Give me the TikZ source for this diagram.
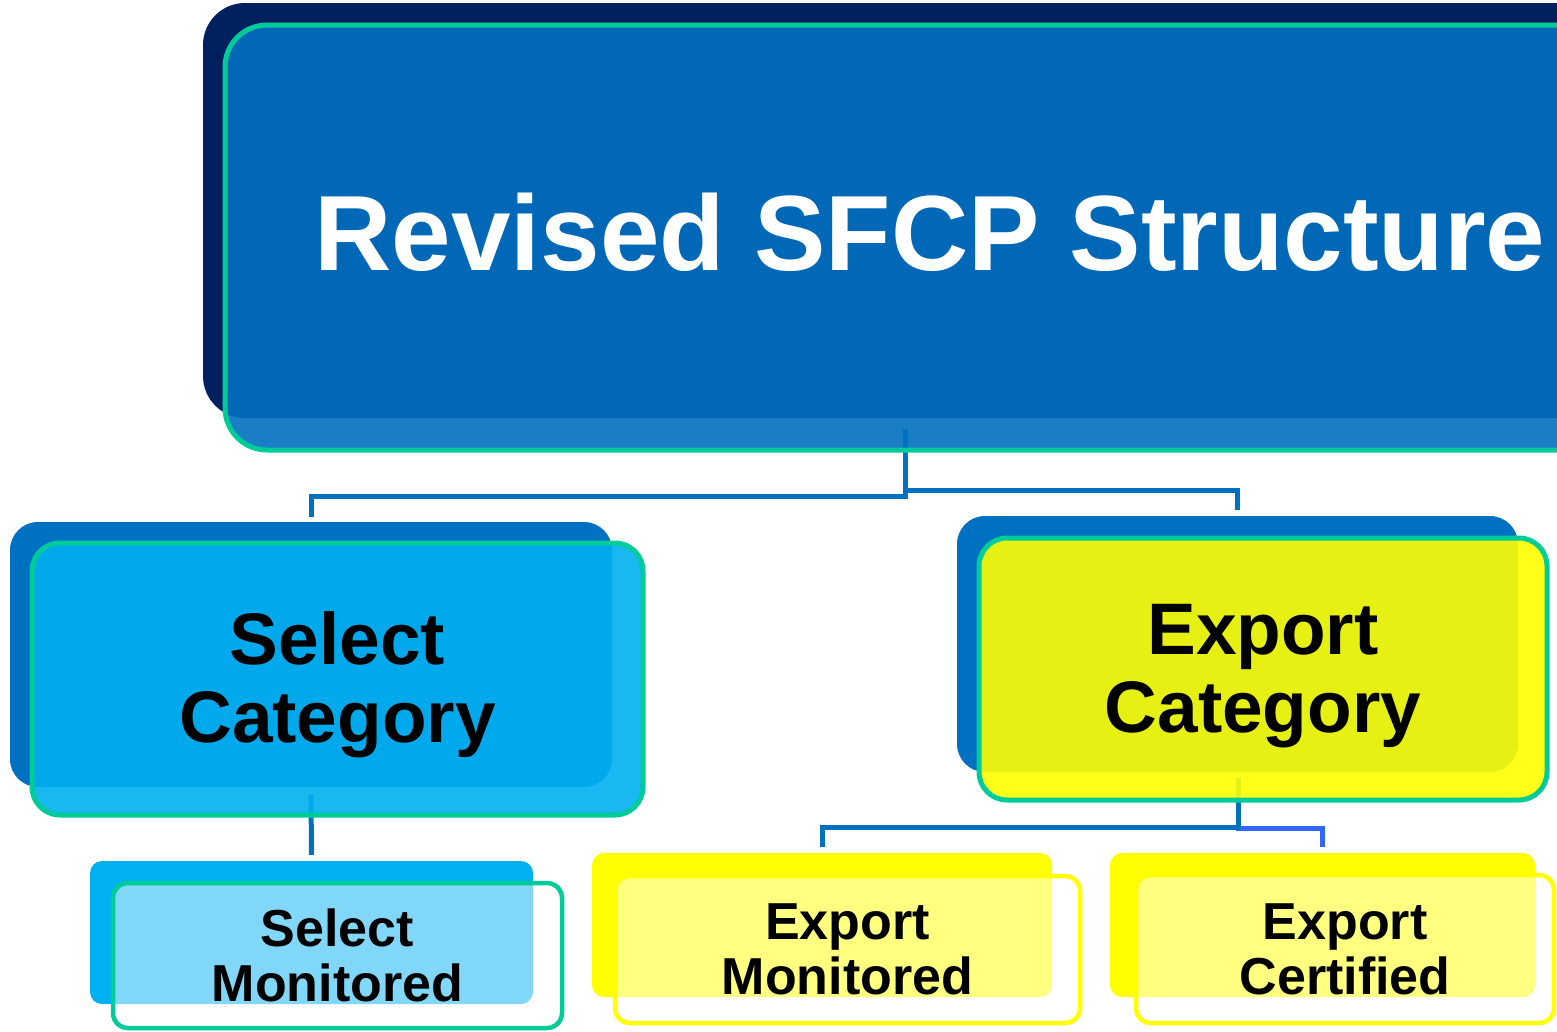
\documentclass[tikz,border=0pt]{standalone}
\usepackage{fontspec}
\setmainfont{Liberation Sans}

\definecolor{sfnavy}{RGB}{0,32,96}
\definecolor{sfblue}{RGB}{0,112,192}
\definecolor{sfcyan}{RGB}{0,176,240}
\definecolor{sfgreen}{RGB}{0,204,153}
\definecolor{sfyellow}{RGB}{255,255,0}
\definecolor{sflink}{RGB}{51,102,255}

\begin{document}
\begin{tikzpicture}[
    x=1pt, y=-1pt,
    backbox/.style={rectangle, inner sep=0pt, draw=none},
    frontbox/.style={rectangle, inner sep=0pt, draw=#1, line width=5pt, fill opacity=0.9, text opacity=1, align=center},
    titleback/.style={backbox, fill=sfnavy, rounded corners=42pt, minimum width=1410pt, minimum height=415pt},
    titlefront/.style={frontbox=sfgreen, fill=sfblue, rounded corners=42pt, minimum width=1410pt, minimum height=425pt, text=white, text height=80pt, text depth=15pt, font=\bfseries\fontsize{107}{110}\selectfont},
    catback/.style={backbox, fill=sfblue, rounded corners=28pt},
    catfront/.style={frontbox=sfgreen, rounded corners=28pt, text height=140pt, text depth=14pt, font=\bfseries\fontsize{73}{78}\selectfont},
    subback/.style={backbox, rounded corners=12pt, minimum height=144pt},
    subfront/.style={frontbox=#1, fill=white, fill opacity=0.5, rounded corners=15pt, line width=4.5pt, font=\bfseries\fontsize{52}{55}\selectfont},
    link/.style={draw=sfblue, line width=5pt},
    linkalt/.style={draw=sflink, line width=5pt}
]

\useasboundingbox (0,0) rectangle (1557,1031);
\clip (0,0) rectangle (1557,1031);

% Back plates
\node[titleback] (titleback) at (908,210.5) {};
\node[catback, minimum width=602pt, minimum height=265pt] (selback) at (311,654.5) {};
\node[catback, minimum width=561pt, minimum height=256pt] (expback) at (1237.5,644) {};
\node[subback, fill=sfcyan, minimum width=443pt, minimum height=143pt] (selmonback) at (311.5,932.5) {};
\node[subback, fill=sfyellow, minimum width=460pt] (expmonback) at (822,925) {};
\node[subback, fill=sfyellow, minimum width=425pt] (expcerback) at (1322.5,925) {};

% Connectors (start inside the front boxes)
\coordinate (tstem) at (905,429);
\coordinate (sstem) at (311,795);
\coordinate (estem) at (1238,778);

\draw[link] (tstem) |- ([yshift=25pt]selback.north) -- ([yshift=5pt]selback.north);
\draw[link] (tstem) |- ([yshift=25pt]expback.north) -- ([yshift=6pt]expback.north);
\draw[link] (sstem) -- ([yshift=6pt]selmonback.north);
\draw[linkalt] (estem) |- ([yshift=24pt]expcerback.north) -- ([yshift=6pt]expcerback.north);
\draw[link] (estem) |- ([yshift=25pt]expmonback.north) -- ([yshift=6pt]expmonback.north);

% Front boxes with the texts
\node[titlefront] (title) at (930,237.5) {Revised SFCP Structure};
\node[catfront, fill=sfcyan, minimum width=611pt, minimum height=272pt] (selcat) at (337.5,679) {Select\\Category};
\node[catfront, fill=sfyellow, minimum width=568pt, minimum height=262pt] (expcat) at (1263,669) {Export\\Category};
\node[subfront=sfgreen, minimum width=449pt, minimum height=145pt] (selmon) at (337.5,955.5) {Select\\Monitored};
\node[subfront=sfyellow, minimum width=465pt, minimum height=147pt] (expmon) at (847.5,949.5) {Export\\Monitored};
\node[subfront=sfyellow, minimum width=418pt, minimum height=148pt] (expcer) at (1345,949) {Export\\Certified};

\end{tikzpicture}
\end{document}
